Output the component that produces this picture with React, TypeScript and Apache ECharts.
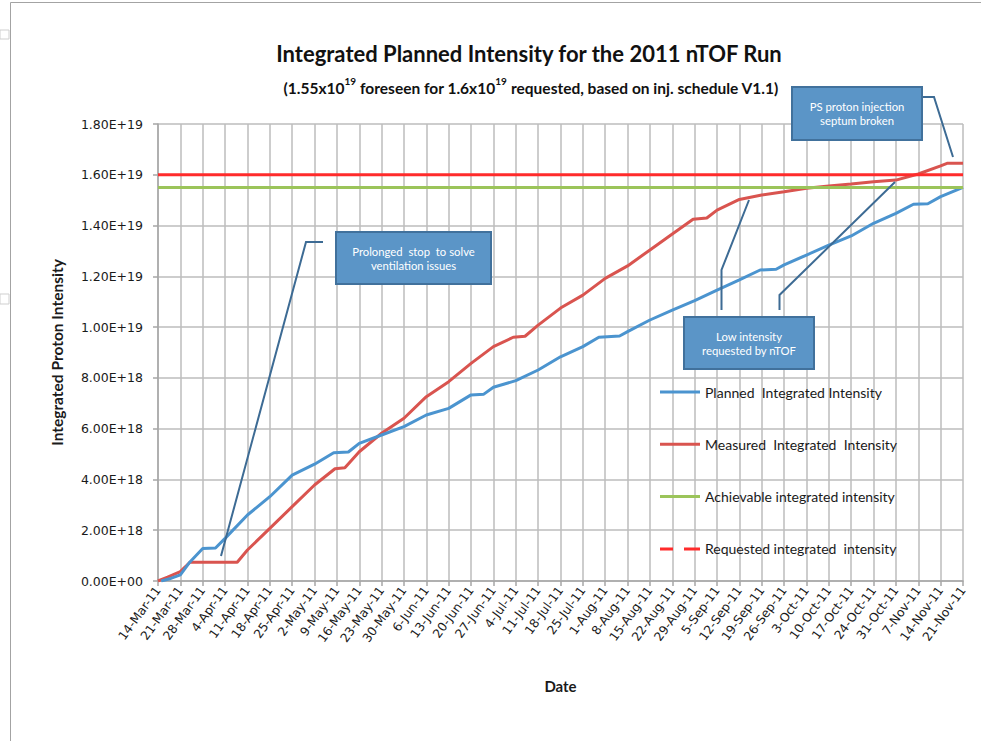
import React, { useEffect, useRef } from "react";
import * as echarts from "echarts";

// ---- Data ----
const weekLabels = [
  "14-Mar-11", "21-Mar-11", "28-Mar-11", "4-Apr-11", "11-Apr-11", "18-Apr-11", "25-Apr-11",
  "2-May-11", "9-May-11", "16-May-11", "23-May-11", "30-May-11", "6-Jun-11", "13-Jun-11",
  "20-Jun-11", "27-Jun-11", "4-Jul-11", "11-Jul-11", "18-Jul-11", "25-Jul-11", "1-Aug-11",
  "8-Aug-11", "15-Aug-11", "22-Aug-11", "29-Aug-11", "5-Sep-11", "12-Sep-11", "19-Sep-11",
  "26-Sep-11", "3-Oct-11", "10-Oct-11", "17-Oct-11", "24-Oct-11", "31-Oct-11", "7-Nov-11",
  "14-Nov-11", "21-Nov-11",
];

const yTickLabels = [
  "0.00E+00", "2.00E+18", "4.00E+18", "6.00E+18", "8.00E+18",
  "1.00E+19", "1.20E+19", "1.40E+19", "1.60E+19", "1.80E+19",
];

// days since 14-Mar-11 ; values in units of 1E18 protons
const plannedDays = [
  1, 4, 7, 10, 14, 18, 21, 28, 35, 42, 49, 55, 59.6, 63, 70, 77, 84, 91, 98, 102, 105, 112,
  119, 126, 133, 138, 144.5, 147, 154, 161, 168, 175, 182, 188.5, 193.5, 196, 203, 210, 217,
  224, 231, 236.5, 241, 245, 252,
];
const plannedValues = [
  0, 0.1, 0.24, 0.75, 1.28, 1.3, 1.68, 2.6, 3.32, 4.17, 4.6, 5.05, 5.08, 5.42, 5.75, 6.08,
  6.54, 6.8, 7.33, 7.36, 7.63, 7.89, 8.31, 8.83, 9.23, 9.6, 9.65, 9.82, 10.28, 10.67, 11.04,
  11.46, 11.86, 12.25, 12.28, 12.45, 12.84, 13.23, 13.59, 14.09, 14.48, 14.84, 14.86, 15.14,
  15.5,
];

const measuredDays = [
  0, 3, 7, 10, 24.8, 28, 35, 42, 49, 55.4, 58.5, 63, 70, 77, 84, 91, 98, 105, 111.2, 114.9,
  119, 126, 133, 140, 147, 154, 161, 167.5, 171.8, 175, 182, 189, 196, 203, 210, 217, 224,
  231, 238, 245, 247, 252,
];
const measuredValues = [
  0, 0.15, 0.37, 0.74, 0.74, 1.22, 2.07, 2.93, 3.78, 4.42, 4.46, 5.09, 5.82, 6.41, 7.26, 7.85,
  8.57, 9.23, 9.6, 9.64, 10.08, 10.75, 11.26, 11.92, 12.41, 13.04, 13.67, 14.25, 14.3, 14.61,
  15.03, 15.2, 15.33, 15.47, 15.56, 15.64, 15.73, 15.79, 16.03, 16.35, 16.45, 16.45,
];

const achievableLevel = 15.5;
const requestedLevel = 16.0;

const seriesNames = [
  "Planned  Integrated Intensity",
  "Measured  Integrated  Intensity",
  "Achievable integrated intensity",
  "Requested integrated  intensity",
];

const FONT = "Lato, 'Open Sans', sans-serif";
const AXFONT = "'DejaVu Sans', sans-serif";

export default function App() {
  const ref = useRef<HTMLDivElement>(null);

  useEffect(() => {
    if (!ref.current) return;
    const chart = echarts.init(ref.current, null, { renderer: "svg" });
    const xMin = 0;
    const xMax = (weekLabels.length - 1) * 7;

    const boxFill = "#5b95c7";
    const boxStroke = "#41719c";
    const conn = "#3d6b94";

    const callout = (x: number, y: number, w: number, h: number, text: string) => [
      {
        type: "rect",
        shape: { x, y, width: w, height: h },
        style: { fill: boxFill, stroke: boxStroke, lineWidth: 2 },
        z: 10,
      },
      {
        type: "text",
        x: x + w / 2,
        y: y + h / 2,
        style: {
          text,
          fill: "#ffffff",
          font: `11.3px ${FONT}`,
          align: "center",
          verticalAlign: "middle",
          lineHeight: 14,
        },
        z: 11,
      },
    ];
    const connector = (pts: number[][]) => ({
      type: "polyline",
      shape: { points: pts },
      style: { stroke: conn, lineWidth: 2, fill: "none" },
      z: 10,
    });

    chart.setOption({
      animation: false,
      backgroundColor: "#ffffff",
      grid: { left: 158, right: 18, top: 124, bottom: 160, containLabel: false },
      legend: {
        orient: "vertical",
        left: 655,
        top: 380,
        itemWidth: 40,
        itemHeight: 3,
        itemGap: 38.3,
        icon: "rect",
        symbolKeepAspect: false,
        textStyle: { fontSize: 14, color: "#1a1a1a", fontFamily: FONT },
        data: [
          { name: seriesNames[0] },
          { name: seriesNames[1] },
          { name: seriesNames[2] },
          { name: seriesNames[3], icon: "path://M0,0H13V3H0Z M24,0H40V3H24Z" },
        ],
      },
      xAxis: {
        type: "value",
        min: xMin,
        max: xMax,
        interval: 7,
        name: "Date",
        nameLocation: "middle",
        nameGap: 97,
        nameTextStyle: { fontSize: 15, fontWeight: "bold", color: "#1a1a1a", fontFamily: FONT },
        axisLine: { lineStyle: { color: "#a6a6a6", width: 1.5 } },
        axisTick: { show: true, length: 5, lineStyle: { color: "#a6a6a6", width: 1.5 } },
        splitLine: { show: true, lineStyle: { color: "#bdbdbd", width: 1.5 } },
        axisLabel: {
          rotate: 54,
          margin: 7,
          fontSize: 12.3,
          color: "#1a1a1a",
          fontFamily: AXFONT,
          showMinLabel: true,
          showMaxLabel: true,
          formatter: (v: number) => weekLabels[Math.round(v / 7)] ?? "",
        },
      },
      yAxis: {
        type: "value",
        min: 0,
        max: 18,
        interval: 2,
        name: "Integrated Proton Intensity",
        nameLocation: "middle",
        nameGap: 93,
        nameTextStyle: { fontSize: 15.5, fontWeight: "bold", color: "#1a1a1a", fontFamily: FONT },
        axisLine: { show: true, lineStyle: { color: "#a6a6a6", width: 1.5 } },
        axisTick: { show: true, length: 5, lineStyle: { color: "#a6a6a6", width: 1.5 } },
        splitLine: { show: true, lineStyle: { color: "#bdbdbd", width: 1.5 } },
        axisLabel: {
          margin: 15,
          fontSize: 12.5,
          color: "#1a1a1a",
          fontFamily: AXFONT,
          formatter: (v: number) => yTickLabels[Math.round(v / 2)] ?? "",
        },
      },
      series: [
        {
          name: seriesNames[0],
          type: "line",
          symbol: "none",
          data: plannedDays.map((d, i) => [d, plannedValues[i]]),
          lineStyle: { color: "#4b94cf", width: 3 },
          itemStyle: { color: "#4b94cf" },
          z: 3,
        },
        {
          name: seriesNames[1],
          type: "line",
          symbol: "none",
          data: measuredDays.map((d, i) => [d, measuredValues[i]]),
          lineStyle: { color: "#d9544f", width: 3 },
          itemStyle: { color: "#d9544f" },
          z: 2,
        },
        {
          name: seriesNames[2],
          type: "line",
          symbol: "none",
          data: [[xMin, achievableLevel], [xMax, achievableLevel]],
          lineStyle: { color: "#9bc45a", width: 3 },
          itemStyle: { color: "#9bc45a" },
          z: 4,
        },
        {
          name: seriesNames[3],
          type: "line",
          symbol: "none",
          data: [[xMin, requestedLevel], [xMax, requestedLevel]],
          lineStyle: { color: "#ff2b2b", width: 3 },
          itemStyle: { color: "#ff2b2b" },
          z: 4,
        },
      ],
      graphic: [
        {
          type: "rect",
          shape: { x: 10.5, y: 2.5, width: 990, height: 760 },
          style: { fill: "none", stroke: "#a3a3a3", lineWidth: 1 },
          silent: true,
        },
        {
          type: "rect",
          shape: { x: 0, y: 30, width: 9, height: 9 },
          style: { fill: "none", stroke: "#cfcfcf", lineWidth: 1 },
        },
        {
          type: "rect",
          shape: { x: 0, y: 294, width: 9, height: 10 },
          style: { fill: "none", stroke: "#cfcfcf", lineWidth: 1 },
        },
        {
          type: "text",
          x: 529,
          y: 53,
          style: {
            text: "Integrated Planned Intensity for the 2011 nTOF Run",
            font: `bold 22px ${FONT}`,
            fill: "#111111",
            align: "center",
            verticalAlign: "middle",
          },
        },
        {
          type: "text",
          x: 531,
          y: 86,
          style: {
            text:
              "{n|(1.55x10}{s|19}{n| foreseen for 1.6x10}{s|19}{n| requested, based on inj. schedule V1.1)}",
            align: "center",
            verticalAlign: "middle",
            fill: "#111111",
            rich: {
              n: { font: `bold 15.5px ${FONT}`, fill: "#111111", lineHeight: 20, verticalAlign: "bottom" },
              s: { font: `bold 10px ${FONT}`, fill: "#111111", lineHeight: 20, verticalAlign: "top" },
            },
          },
        },
        connector([[323, 242], [306, 242], [221, 556]]),
        ...callout(336, 232, 155, 52, "Prolonged  stop  to solve\nventilation issues"),
        connector([[721.5, 310], [721.5, 270], [749, 200]]),
        connector([[779.5, 310], [779.5, 295], [895, 182]]),
        ...callout(684, 317, 130, 52, "Low intensity\nrequested by nTOF"),
        connector([[922, 97], [934, 97], [953, 157]]),
        ...callout(792, 87, 130, 53, "PS proton injection\nseptum broken"),
      ],
    });

    return () => chart.dispose();
  }, []);

  return (
    <div
      ref={ref}
      style={{ position: "absolute", left: 0, top: 0, width: 981, height: 741 }}
    />
  );
}
